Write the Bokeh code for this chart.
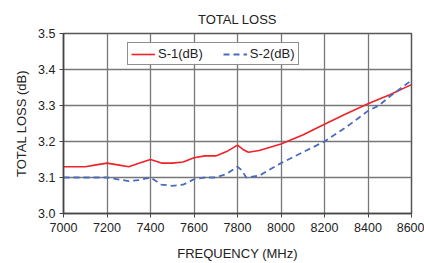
from bokeh.plotting import figure
from bokeh.embed import file_html
from bokeh.resources import INLINE
from bokeh.models import Legend, LegendItem, FixedTicker, Range1d, CustomJSTickFormatter

freq1 = [7000, 7100, 7150, 7200, 7250, 7300, 7350, 7400, 7450, 7500, 7550, 7600, 7650, 7700, 7750, 7800, 7825, 7850, 7900, 8000, 8100, 8200, 8300, 8400, 8500, 8600]
s1 = [3.13, 3.13, 3.135, 3.14, 3.135, 3.13, 3.14, 3.15, 3.14, 3.14, 3.143, 3.155, 3.16, 3.16, 3.172, 3.19, 3.178, 3.17, 3.175, 3.193, 3.218, 3.248, 3.277, 3.305, 3.33, 3.358]
freq2 = [7000, 7100, 7200, 7250, 7300, 7350, 7400, 7450, 7500, 7550, 7600, 7650, 7700, 7750, 7800, 7820, 7840, 7900, 8000, 8100, 8200, 8300, 8400, 8450, 8500, 8600]
s2 = [3.10, 3.10, 3.10, 3.095, 3.09, 3.093, 3.10, 3.08, 3.077, 3.08, 3.095, 3.10, 3.10, 3.11, 3.13, 3.12, 3.10, 3.105, 3.14, 3.17, 3.20, 3.24, 3.285, 3.30, 3.325, 3.37]
x_ticks = [7000, 7200, 7400, 7600, 7800, 8000, 8200, 8400, 8600]
y_ticks = [3.0, 3.1, 3.2, 3.3, 3.4, 3.5]

FONT = "Liberation Sans"

p = figure(width=424, height=263, output_backend="svg", toolbar_location=None,
           x_range=Range1d(7000, 8600), y_range=Range1d(3.0, 3.5),
           min_border_left=63, min_border_right=13, min_border_top=33, min_border_bottom=50,
           title="TOTAL LOSS")
p.title.align = "center"
p.title.text_font = FONT
p.title.text_font_size = "13px"
p.title.text_font_style = "normal"
p.title.text_color = "#222222"
p.title.offset = 0
p.title.vertical_align = "top"

r1 = p.line(freq1, s1, line_color="#ee2229", line_width=1.6)
r2 = p.line(freq2, s2, line_color="#4a6cbf", line_width=1.8, line_dash="6 4")

p.xaxis.ticker = FixedTicker(ticks=x_ticks)
p.yaxis.ticker = FixedTicker(ticks=y_ticks)
p.yaxis.formatter = CustomJSTickFormatter(code="return tick.toFixed(1);")

for ax in (p.xaxis, p.yaxis):
    ax.axis_label_text_font = FONT
    ax.axis_label_text_font_size = "13px"
    ax.axis_label_text_font_style = "normal"
    ax.axis_label_text_color = "#222222"
    ax.major_label_text_font = FONT
    ax.major_label_text_font_size = "12.5px"
    ax.major_label_text_color = "#222222"
    ax.axis_line_color = "#444444"
    ax.axis_line_width = 1.5
    ax.major_tick_line_color = "#444444"
    ax.major_tick_out = 4
    ax.major_tick_in = 0
    ax.minor_tick_line_color = None
p.xaxis.axis_label = "FREQUENCY (MHz)"
p.yaxis.axis_label = "TOTAL LOSS (dB)"
p.xaxis.axis_label_standoff = 11
p.yaxis.axis_label_standoff = 6
p.xaxis.major_label_standoff = 5
p.yaxis.major_label_standoff = 4

p.xgrid.grid_line_color = "#777777"
p.ygrid.grid_line_color = "#777777"
p.xgrid.grid_line_width = 1.3
p.ygrid.grid_line_width = 1.3
p.outline_line_color = "#555555"
p.outline_line_width = 1.5

legend = Legend(items=[LegendItem(label="S-1(dB)", renderers=[r1]),
                       LegendItem(label="S-2(dB)", renderers=[r2])],
                orientation="horizontal", location=(64, 148),
                label_text_font=FONT, label_text_font_size="13px",
                label_text_color="#222222",
                border_line_color="#222222", border_line_width=1,
                glyph_width=24, glyph_height=12, label_standoff=3, spacing=20,
                padding=3, margin=0, label_height=13)
p.add_layout(legend, "center")

open("out.html", "w").write(file_html(p, INLINE))
